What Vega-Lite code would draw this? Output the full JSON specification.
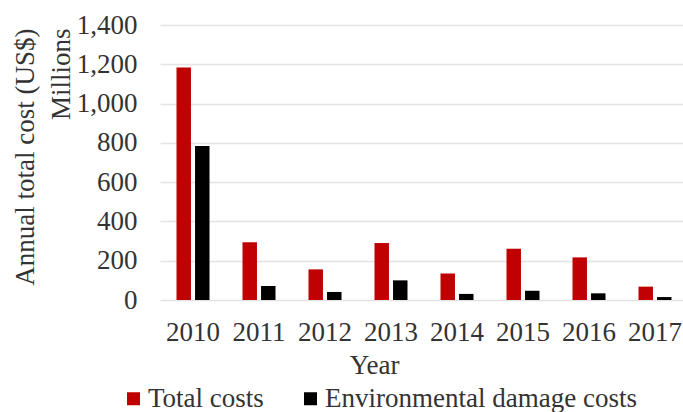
{
  "$schema": "https://vega.github.io/schema/vega-lite/v6.json",
  "width": 523,
  "height": 275,
  "autosize": {"type": "none"},
  "padding": {"left": 160, "top": 25, "right": 0, "bottom": 112},
  "background": "white",
  "config": {
    "font": "Liberation Serif",
    "view": {"stroke": null}
  },
  "data": {
    "values": [
      {"year": "2010", "series": "Total costs", "value": 1184},
      {"year": "2010", "series": "Environmental damage costs", "value": 784},
      {"year": "2011", "series": "Total costs", "value": 294},
      {"year": "2011", "series": "Environmental damage costs", "value": 71},
      {"year": "2012", "series": "Total costs", "value": 156},
      {"year": "2012", "series": "Environmental damage costs", "value": 41},
      {"year": "2013", "series": "Total costs", "value": 290},
      {"year": "2013", "series": "Environmental damage costs", "value": 100},
      {"year": "2014", "series": "Total costs", "value": 135},
      {"year": "2014", "series": "Environmental damage costs", "value": 31},
      {"year": "2015", "series": "Total costs", "value": 261},
      {"year": "2015", "series": "Environmental damage costs", "value": 47},
      {"year": "2016", "series": "Total costs", "value": 217},
      {"year": "2016", "series": "Environmental damage costs", "value": 34},
      {"year": "2017", "series": "Total costs", "value": 68},
      {"year": "2017", "series": "Environmental damage costs", "value": 15}
    ]
  },
  "mark": {"type": "bar"},
  "encoding": {
    "x": {
      "field": "year",
      "type": "nominal",
      "scale": {"range": [0, 528], "paddingInner": 0.5, "paddingOuter": 0.25},
      "axis": {
        "title": "Year",
        "titleFont": "Liberation Serif",
        "titleFontSize": 27,
        "titleFontWeight": "normal",
        "titleColor": "#333333",
        "titleX": 214,
        "titleY": 73,
        "titleAlign": "center",
        "titleBaseline": "alphabetic",
        "labelAngle": 0,
        "labelFont": "Liberation Serif",
        "labelFontSize": 27,
        "labelColor": "#333333",
        "labelPadding": 19,
        "ticks": false,
        "domain": false,
        "grid": false
      }
    },
    "xOffset": {
      "field": "series",
      "type": "nominal",
      "sort": ["Total costs", "Environmental damage costs"],
      "scale": {"paddingInner": 0.22, "paddingOuter": 0}
    },
    "y": {
      "field": "value",
      "type": "quantitative",
      "scale": {"domain": [0, 1400], "nice": false},
      "axis": {
        "title": ["Annual total cost (US$)", "Millions"],
        "titleFont": "Liberation Serif",
        "titleFontSize": 27,
        "titleFontWeight": "normal",
        "titleColor": "#333333",
        "titleAngle": -90,
        "titleAlign": "right",
        "titleBaseline": "alphabetic",
        "titleLineHeight": 36,
        "titleX": -127,
        "titleY": 3,
        "values": [0, 200, 400, 600, 800, 1000, 1200, 1400],
        "format": ",d",
        "labelFont": "Liberation Serif",
        "labelFontSize": 27,
        "labelColor": "#333333",
        "labelPadding": 23,
        "ticks": false,
        "domain": false,
        "grid": true,
        "gridColor": "#E3E3E3",
        "gridWidth": 1.5
      }
    },
    "color": {
      "field": "series",
      "type": "nominal",
      "scale": {
        "domain": ["Total costs", "Environmental damage costs"],
        "range": ["#C00000", "#000000"]
      },
      "legend": {
        "title": null,
        "orient": "none",
        "legendX": -40,
        "legendY": 360,
        "padding": 0,
        "direction": "horizontal",
        "symbolType": "square",
        "symbolSize": 169,
        "symbolStrokeWidth": 0,
        "labelFont": "Liberation Serif",
        "labelFontSize": 27,
        "labelColor": "#333333",
        "labelOffset": 1,
        "columnPadding": 33,
        "labelLimit": 400
      }
    }
  }
}
